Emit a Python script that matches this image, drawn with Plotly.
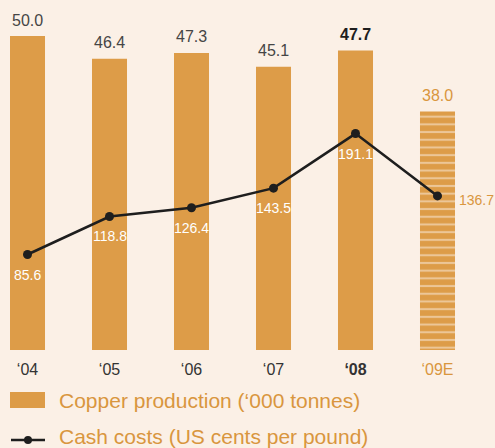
import plotly.graph_objects as go

years = ["‘04", "‘05", "‘06", "‘07", "‘08", "‘09E"]
copper_production = [50.0, 46.4, 47.3, 45.1, 47.7, 38.0]
cash_costs = [85.6, 118.8, 126.4, 143.5, 191.1, 136.7]

ORANGE = "#DD9C48"
ORANGE_TXT = "#D9963E"
BG = "#FBF0E6"
DARK = "#1E1E1E"
GREY = "#454545"

LABEL_FONT = "Liberation Sans, Arial, sans-serif"
NARROW_FONT = "Liberation Sans Narrow, Arial Narrow, Liberation Sans, sans-serif"

x = list(range(len(years)))
last = len(years) - 1  # the estimate year is styled differently

W, H = 495, 448
PLOT_TOP, PLOT_BOTTOM = 5, 350

fig = go.Figure()

fig.add_trace(go.Bar(
    x=x, y=copper_production,
    width=0.427,
    marker=dict(
        color=ORANGE,
        line=dict(width=0),
        pattern=dict(
            shape=["" if i < last else "-" for i in x],
            fgcolor=BG, bgcolor=ORANGE,
            size=7.7, solidity=0.27,
        ),
    ),
    showlegend=False, hoverinfo="skip",
))

fig.add_trace(go.Scatter(
    x=x, y=cash_costs, yaxis="y2",
    mode="lines+markers",
    line=dict(color=DARK, width=2.6),
    marker=dict(color=DARK, size=9),
    showlegend=False, hoverinfo="skip",
))

# value labels above the bars
for i, v in enumerate(copper_production):
    if i == last:
        txt, col = f"{v:.1f}", ORANGE_TXT
    elif i == last - 1:
        txt, col = f"<b>{v:.1f}</b>", DARK
    else:
        txt, col = f"{v:.1f}", GREY
    fig.add_annotation(x=i, y=v, text=txt, showarrow=False, yshift=16,
                       font=dict(family=LABEL_FONT, size=16, color=col))

# cash cost labels under the points (last one sits to the right)
for i, v in enumerate(cash_costs):
    if i == last:
        fig.add_annotation(x=i, y=v, yref="y2", text=f"{v:.1f}", showarrow=False,
                           xanchor="left", xshift=19, yshift=-4,
                           font=dict(family=NARROW_FONT, size=14, color=ORANGE_TXT))
    else:
        fig.add_annotation(x=i, y=v, yref="y2", text=f"{v:.1f}", showarrow=False,
                           yshift=-20,
                           font=dict(family=NARROW_FONT, size=14, color="white"))

ticktext = []
for i, y in enumerate(years):
    if i == last:
        ticktext.append(f"<span style='color:{ORANGE_TXT}'>{y}</span>")
    elif i == last - 1:
        ticktext.append(f"<b>{y}</b>")
    else:
        ticktext.append(y)


# legend drawn by hand, positions given in pixels
def py(p):
    return (PLOT_BOTTOM - p) / (PLOT_BOTTOM - PLOT_TOP)


def px_(p):
    return p / W


fig.add_shape(type="rect", xref="paper", yref="paper",
              x0=px_(10), x1=px_(45), y0=py(408), y1=py(392),
              fillcolor=ORANGE, line=dict(width=0))
fig.add_shape(type="line", xref="paper", yref="paper",
              x0=px_(11), x1=px_(45), y0=py(440), y1=py(440),
              line=dict(color=DARK, width=2.6))
fig.add_shape(type="circle", xref="paper", yref="paper",
              x0=px_(24), x1=px_(32), y0=py(444), y1=py(436),
              fillcolor=DARK, line=dict(width=0))
fig.add_annotation(xref="paper", yref="paper", x=px_(57), y=py(400),
                   xanchor="left", yanchor="middle", showarrow=False,
                   text="Copper production (‘000 tonnes)",
                   font=dict(family=LABEL_FONT, size=21, color=ORANGE_TXT))
fig.add_annotation(xref="paper", yref="paper", x=px_(57), y=py(437),
                   xanchor="left", yanchor="middle", showarrow=False,
                   text="Cash costs (US cents per pound)",
                   font=dict(family=LABEL_FONT, size=21, color=ORANGE_TXT))

fig.update_layout(
    width=W, height=H,
    margin=dict(l=0, r=0, t=PLOT_TOP, b=H - PLOT_BOTTOM),
    paper_bgcolor=BG, plot_bgcolor=BG,
    xaxis=dict(
        range=[-0.3354, 5.7012], tickvals=x, ticktext=ticktext,
        showgrid=False, zeroline=False, showline=False, ticks="",
        ticklabelstandoff=8,
        tickfont=dict(family=LABEL_FONT, size=16, color="#333333"),
        fixedrange=True,
    ),
    yaxis=dict(range=[0, 54.94], visible=False, fixedrange=True),
    yaxis2=dict(range=[2.35, 303.2], overlaying="y", visible=False, fixedrange=True),
)

# drop the default page margin so the figure fills the window
fig.write_html(
    "out.html",
    config={"displayModeBar": False},
    post_script=f"document.body.style.margin='0';document.body.style.background='{BG}';",
)
